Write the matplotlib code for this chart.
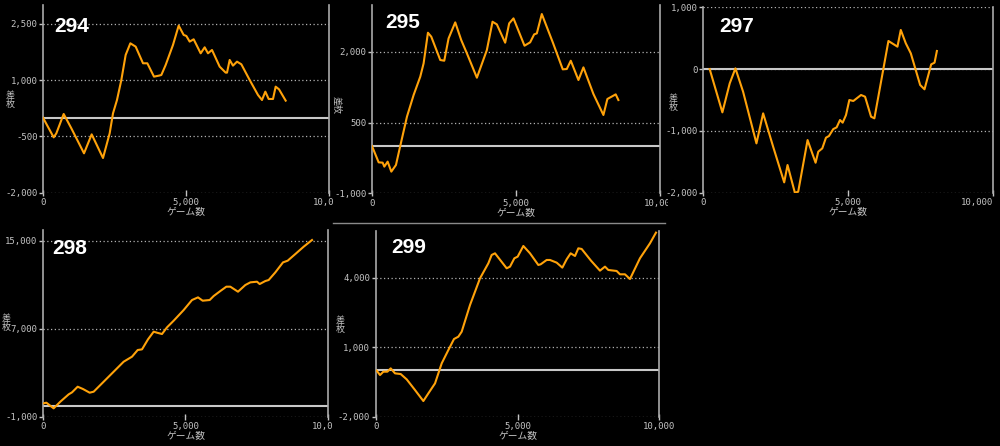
import matplotlib
matplotlib.use('Agg')
import matplotlib.pyplot as plt
from matplotlib.ticker import FuncFormatter
from matplotlib.lines import Line2D

plt.rcParams['font.family'] = ['Noto Sans CJK JP', 'DejaVu Sans']

# ---- データ（ゲーム数, 差枚）----
games_294 = [0, 373, 466, 723, 991, 1434, 1702, 2098, 2331, 2448, 2587, 2739, 2890, 3054,
             3240, 3497, 3648, 3881, 4056, 4138, 4289, 4545, 4744, 4918, 5012, 5128, 5268,
             5513, 5653, 5769, 5909, 6177, 6387, 6434, 6527, 6643, 6783, 6935, 7226, 7517,
             7657, 7774, 7890, 8042, 8135, 8252, 8485]
diff_294 = [0, -524, -418, 99, -283, -950, -444, -1075, -417, 117, 472, 1006, 1673, 1984,
            1895, 1451, 1451, 1095, 1122, 1139, 1406, 1940, 2456, 2207, 2180, 2029, 2091,
            1717, 1877, 1717, 1806, 1362, 1202, 1202, 1540, 1388, 1495, 1424, 1006, 606,
            472, 695, 499, 499, 828, 757, 455]

games_295 = [0, 231, 370, 428, 543, 671, 832, 983, 1214, 1445, 1676, 1792, 1942, 2058,
             2370, 2509, 2659, 2890, 3098, 3295, 3642, 3988, 4185, 4335, 4624, 4763, 4913,
             5295, 5491, 5630, 5723, 5896, 6277, 6624, 6763, 6902, 7168, 7341, 7688, 8035,
             8173, 8462, 8555]
diff_295 = [0, -344, -351, -435, -329, -541, -400, 9, 624, 1082, 1471, 1753, 2402, 2318,
            1824, 1809, 2282, 2621, 2247, 1965, 1449, 2035, 2635, 2579, 2191, 2600, 2706,
            2127, 2198, 2367, 2388, 2798, 2198, 1626, 1633, 1809, 1400, 1668, 1104, 659,
            998, 1096, 976]

games_297 = [230, 668, 922, 1118, 1382, 1843, 2074, 2419, 2800, 2915, 3168, 3283, 3606,
             3882, 3975, 4113, 4240, 4343, 4493, 4608, 4724, 4816, 4931, 5046, 5184, 5449,
             5588, 5795, 5910, 6394, 6705, 6820, 6993, 7166, 7488, 7638, 7869, 7984, 8065]
diff_297 = [0, -700, -230, 12, -365, -1202, -716, -1256, -1833, -1552, -2000, -1984, -1148,
            -1515, -1336, -1283, -1110, -1083, -970, -943, -824, -867, -743, -500, -516, -419,
            -446, -770, -797, 455, 363, 633, 417, 255, -257, -327, 77, 104, 293]

games_298 = [23, 117, 374, 608, 901, 1018, 1216, 1404, 1637, 1778, 2012, 2480, 2830, 3123,
             3322, 3474, 3684, 3883, 4000, 4175, 4351, 4585, 4936, 5228, 5439, 5602, 5848,
             5988, 6222, 6433, 6573, 6842, 7099, 7275, 7509, 7602, 7801, 7918, 8152, 8421,
             8585, 8854, 9146, 9439]
diff_298 = [214, 275, -241, 365, 1032, 1213, 1727, 1515, 1183, 1274, 1880, 3092, 4000, 4456,
            5062, 5122, 6031, 6728, 6637, 6516, 7122, 7728, 8698, 9607, 9849, 9546, 9607,
            9970, 10425, 10819, 10819, 10364, 10970, 11213, 11273, 11061, 11334, 11425,
            12121, 13030, 13182, 13788, 14455, 15061]

games_299 = [35, 153, 270, 411, 529, 682, 881, 1093, 1386, 1680, 1857, 2092, 2327, 2562,
             2761, 2914, 3032, 3326, 3678, 3972, 4089, 4207, 4618, 4736, 4889, 5006, 5206,
             5441, 5734, 5817, 6028, 6146, 6381, 6581, 6733, 6874, 7027, 7145, 7262, 7591,
             7908, 8085, 8202, 8496, 8613, 8789, 8966, 9318, 9671, 9883]
diff_299 = [-15, -202, -58, -58, 86, -130, -159, -389, -849, -1324, -993, -562, 302, 877,
            1352, 1453, 1669, 2820, 3971, 4619, 4979, 5050, 4403, 4475, 4835, 4907, 5367,
            5050, 4547, 4576, 4763, 4763, 4648, 4432, 4791, 5050, 4935, 5266, 5238, 4734,
            4302, 4475, 4331, 4288, 4144, 4144, 3942, 4835, 5482, 5943]

W, H = 1000, 446
BG = '#000000'
LINE_C = '#FFA20A'
TXT_C = '#c4c4c4'


def rect(l, t, r, b):
    return [l / W, 1 - b / H, (r - l) / W, (b - t) / H]


# 各スクリーンショットの配置（ピクセル）
panels = [
    dict(name='294', x=games_294, y=diff_294, shot=(0, 0, 333, 222),
         ax=(43, 5.2, 329, 192.7), ylim=(-2000, 3000), yticks=[-2000, -500, 1000, 2500],
         title=(54, 26), ylab=(10, 100), ylab_rot=False),
    dict(name='295', x=games_295, y=diff_295, shot=(333, 0, 668, 222),
         ax=(372, 4.5, 660, 193.3), ylim=(-1000, 3000), yticks=[-1000, 500, 2000],
         title=(385, 23), ylab=(337, 105), ylab_rot=True),
    dict(name='297', x=games_297, y=diff_297, shot=(668, 0, 1000, 222),
         ax=(703, 7.3, 993, 192.7), ylim=(-2000, 1000), yticks=[-2000, -1000, 0, 1000],
         title=(719, 27), ylab=(673, 103), ylab_rot=False),
    dict(name='298', x=games_298, y=diff_298, shot=(0, 220, 333, 446),
         ax=(43, 229.7, 328, 416.7), ylim=(-1000, 16000), yticks=[-1000, 7000, 15000],
         title=(52, 249), ylab=(6, 323), ylab_rot=False),
    dict(name='299', x=games_299, y=diff_299, shot=(333, 222, 665, 446),
         ax=(375.7, 231.3, 659.3, 416.7), ylim=(-2000, 6000), yticks=[-2000, 1000, 4000],
         title=(391, 247), ylab=(340, 325), ylab_rot=False),
]

fig = plt.figure(figsize=(W / 100, H / 100), dpi=100, facecolor=BG)
fmt = FuncFormatter(lambda v, p: f'{int(v):,}')

for p in panels:
    # スクリーンショットの背景（後のものが前のものを隠す）
    bg = fig.add_axes(rect(*p['shot']))
    bg.set_facecolor(BG)
    bg.set_xticks([])
    bg.set_yticks([])
    for s in bg.spines.values():
        s.set_visible(False)

    l, t, r, b = p['ax']
    ax = fig.add_axes(rect(l, t, r, b))
    ax.set_facecolor(BG)
    ax.set_xlim(0, 10000)
    ax.set_ylim(*p['ylim'])
    ax.set_xticks([0, 5000, 10000])
    ax.set_yticks(p['yticks'])
    ax.xaxis.set_major_formatter(fmt)
    ax.yaxis.set_major_formatter(fmt)
    ax.tick_params(axis='y', colors=TXT_C, labelsize=6.5, length=3, pad=1, width=1)
    ax.tick_params(axis='x', colors=TXT_C, labelsize=6.5, length=4, pad=2, width=1,
                   direction='inout')
    for lab in ax.get_xticklabels() + ax.get_yticklabels():
        lab.set_family('DejaVu Sans Mono')
    if r > 990:
        # 右端の「10,000」は画面内に収める
        ax.get_xticklabels()[-1].set_horizontalalignment('right')
    ax.spines['top'].set_visible(False)
    ax.spines['bottom'].set_visible(False)
    for side in ['left', 'right']:
        ax.spines[side].set_color('#aaaaaa')
        ax.spines[side].set_linewidth(1.2)
    ax.grid(axis='y', color='#b0b0b0', linestyle=(0, (1, 2)), linewidth=0.9)
    ax.axhline(0, color='#c8c8c8', linewidth=1.5, zorder=2)
    ax.plot(p['x'], p['y'], color=LINE_C, linewidth=1.5, zorder=3)

    ax.set_xlabel('ゲーム数', color=TXT_C, fontsize=7, labelpad=0)

    tx, ty = p['title']
    fig.text(tx / W, 1 - ty / H, p['name'], color='white', fontsize=15,
             fontweight='bold', family='Liberation Sans', va='center', ha='left')

    lx, ly = p['ylab']
    if p['ylab_rot']:
        fig.text(lx / W, 1 - ly / H, '差枚', color=TXT_C, fontsize=6.5,
                 rotation=-90, ha='center', va='center')
    else:
        fig.text(lx / W, 1 - ly / H, '差\n枚', color=TXT_C, fontsize=6.5,
                 ha='center', va='center', linespacing=1.0)

# 下段右のスクリーンショット上端の枠線
fig.add_artist(Line2D([333 / W, 665 / W], [1 - 223 / H, 1 - 223 / H],
                      color='#8a8a8a', linewidth=1))

fig.savefig('out.png', dpi=100, facecolor=BG)
